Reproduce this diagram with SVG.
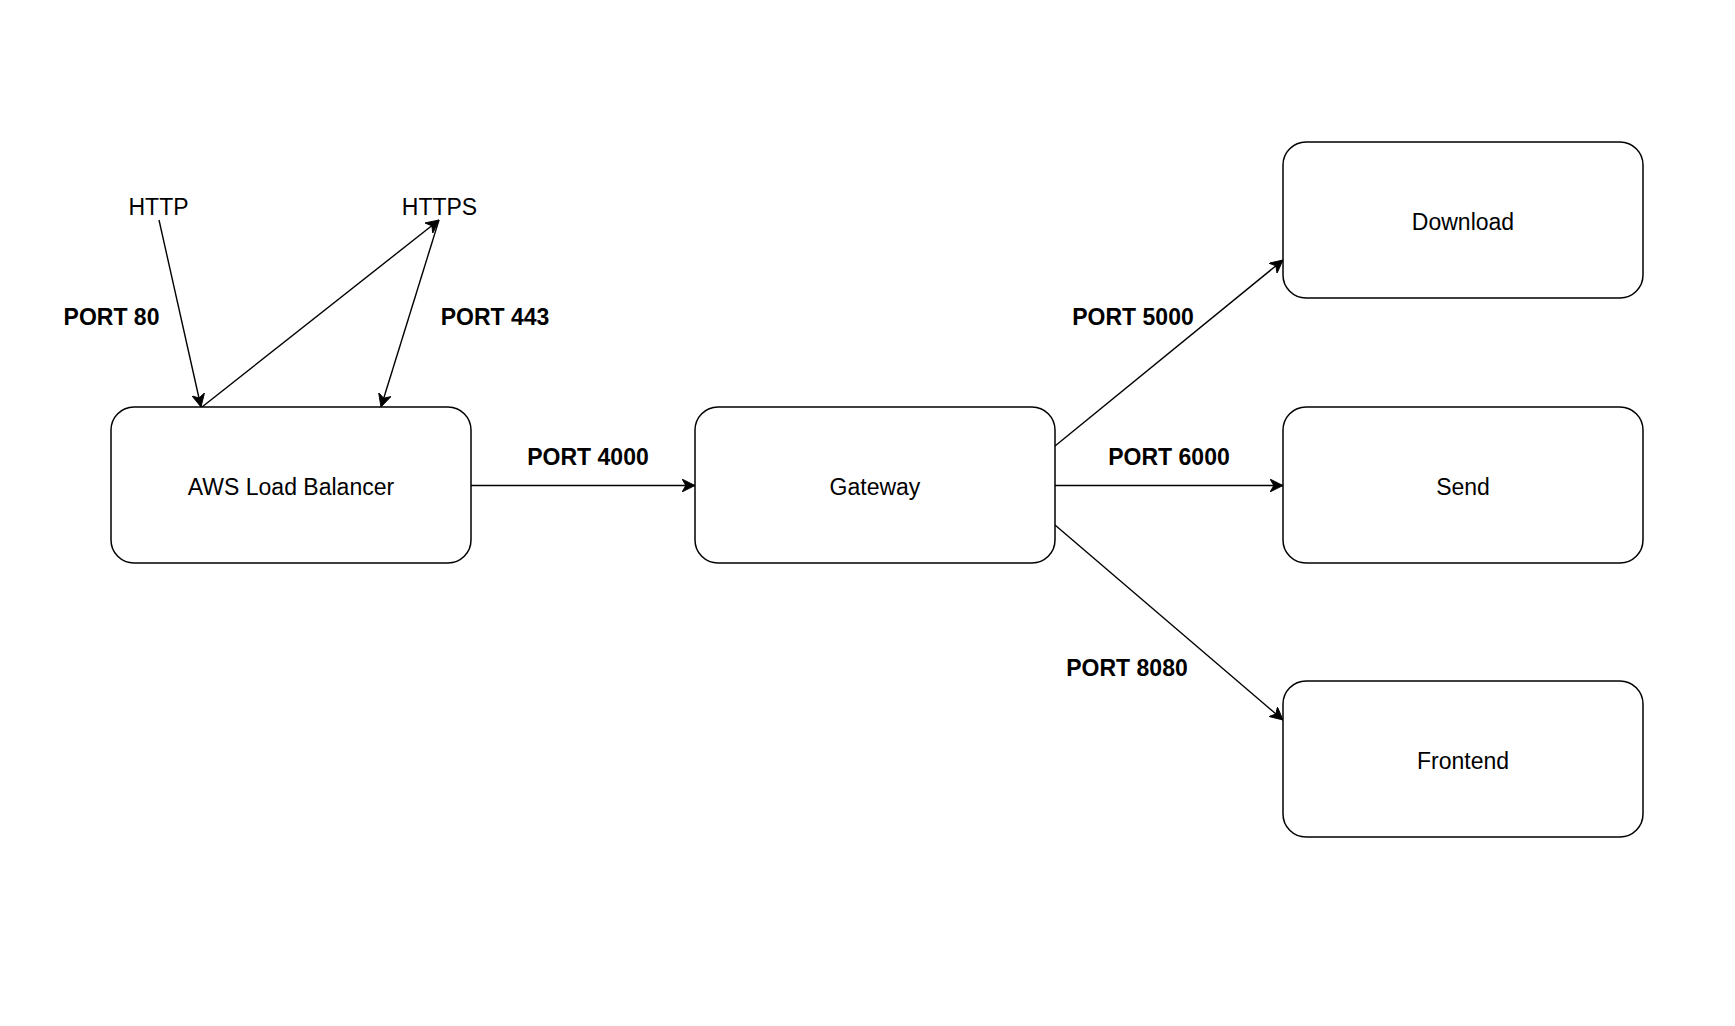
<svg xmlns="http://www.w3.org/2000/svg" width="1735" height="1026" viewBox="0 0 1735 1026">
<style>
.node rect{fill:#ffffff;stroke:#000000;stroke-width:1.5}
.node text,.lbl{font-family:"Liberation Sans",Arial,Helvetica,sans-serif;font-size:23px;fill:#000000;text-anchor:middle}
.lbl{font-weight:bold}
.edge{fill:none;stroke:#000000;stroke-width:1.4;marker-end:url(#arrow)}
</style>
<defs>
<marker id="arrow" viewBox="0 0 12 12" refX="12" refY="6" markerWidth="13" markerHeight="13" markerUnits="userSpaceOnUse" orient="auto">
<path d="M0,0 L12,6 L0,12 L3.5,6 Z" fill="#000000" stroke="#000000" stroke-width="0.8" stroke-linejoin="miter"/>
</marker>
</defs>
<rect width="1735" height="1026" fill="#ffffff"/>
<g id="connectors">
<line class="edge" x1="159" y1="220" x2="201" y2="407"/>
<line class="edge" x1="202" y1="407" x2="439" y2="220"/>
<line class="edge" x1="439" y1="220" x2="381" y2="407"/>
<line class="edge" x1="471" y1="485.5" x2="695" y2="485.5"/>
<line class="edge" x1="1055" y1="446" x2="1283" y2="260"/>
<line class="edge" x1="1055" y1="485.5" x2="1283" y2="485.5"/>
<line class="edge" x1="1055" y1="525" x2="1283" y2="720"/>
</g>
<g id="labels">
<text class="lbl" x="111.5" y="324.5">PORT 80</text>
<text class="lbl" x="495" y="324.5">PORT 443</text>
<text class="lbl" x="588" y="465">PORT 4000</text>
<text class="lbl" x="1133" y="324.5">PORT 5000</text>
<text class="lbl" x="1169" y="465">PORT 6000</text>
<text class="lbl" x="1127" y="675.5">PORT 8080</text>
</g>
<g id="http" class="node"><text x="158.5" y="214.5">HTTP</text></g>
<g id="https" class="node"><text x="439.5" y="214.5">HTTPS</text></g>
<g id="aws-load-balancer" class="node">
<rect x="111" y="407" width="360" height="156" rx="23" ry="23"/>
<text x="291" y="495">AWS Load Balancer</text>
</g>
<g id="gateway" class="node">
<rect x="695" y="407" width="360" height="156" rx="23" ry="23"/>
<text x="875" y="495">Gateway</text>
</g>
<g id="download" class="node">
<rect x="1283" y="142" width="360" height="156" rx="23" ry="23"/>
<text x="1463" y="230">Download</text>
</g>
<g id="send" class="node">
<rect x="1283" y="407" width="360" height="156" rx="23" ry="23"/>
<text x="1463" y="495">Send</text>
</g>
<g id="frontend" class="node">
<rect x="1283" y="681" width="360" height="156" rx="23" ry="23"/>
<text x="1463" y="769">Frontend</text>
</g>
</svg>
